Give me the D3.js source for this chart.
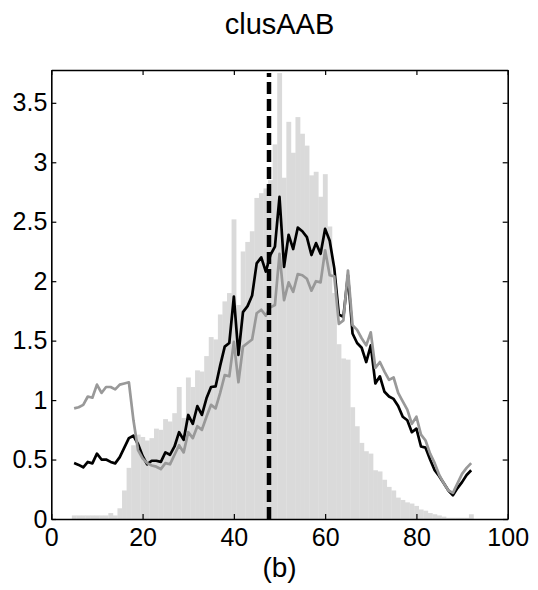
<!DOCTYPE html>
<html>
<head>
<meta charset="utf-8">
<script src="https://cdn.jsdelivr.net/npm/d3@7"></script>
<style>
  body { margin: 0; background: #fff; }
  svg text { font-family: "Liberation Sans", Arial, sans-serif; fill: #000; }
</style>
</head>
<body>
<svg id="chart" width="538" height="590"></svg>
<script>
'use strict';

// bin centres / sample positions
var xs = [5, 6, 7, 8, 9, 10, 11, 12, 13, 14, 15, 16, 17, 18, 19, 20, 21, 22, 23, 24,
  25, 26, 27, 28, 29, 30, 31, 32, 33, 34, 35, 36, 37, 38, 39, 40, 41, 42, 43, 44,
  45, 46, 47, 48, 49, 50, 51, 52, 53, 54, 55, 56, 57, 58, 59, 60, 61, 62, 63, 64,
  65, 66, 67, 68, 69, 70, 71, 72, 73, 74, 75, 76, 77, 78, 79, 80, 81, 82, 83, 84,
  85, 86, 87, 88, 89, 90, 91, 92];

// histogram (light grey bars)
var histVals = [0.03, 0.03, 0.03, 0.03, 0.03, 0.03, 0.03, 0.03, 0.05, 0.03,
  0.09, 0.24, 0.43, 0.62, 0.71, 0.69, 0.66, 0.68, 0.76, 0.75,
  0.84, 0.82, 0.89, 1.11, 0.85, 1.19, 1.11, 1.25, 1.24, 1.37,
  1.53, 1.51, 1.72, 1.83, 1.90, 2.52, 1.80, 2.25, 2.33, 2.42,
  2.70, 2.74, 2.78, 2.85, 3.15, 3.75, 2.87, 3.34, 3.08, 3.38,
  3.24, 3.14, 2.89, 2.92, 2.71, 2.90, 2.46, 1.90, 1.47, 1.35,
  1.34, 0.94, 0.78, 0.64, 0.57, 0.55, 0.41, 0.40, 0.33, 0.27,
  0.24, 0.18, 0.16, 0.14, 0.13, 0.11, 0.08, 0.07, 0.05, 0.04,
  0.03, 0.02, 0.01, 0.01, 0.01, 0.01, 0.01, 0.04];

// black curve
var blackVals = [0.47, 0.455, 0.435, 0.48, 0.468, 0.55, 0.50, 0.50, 0.48, 0.468,
  0.52, 0.60, 0.68, 0.70, 0.63, 0.53, 0.46, 0.49, 0.49, 0.48,
  0.56, 0.54, 0.61, 0.73, 0.665, 0.875, 0.80, 0.95, 0.875, 1.015,
  1.11, 1.115, 1.29, 1.45, 1.48, 1.87, 1.38, 1.74, 1.79, 1.88,
  2.15, 2.20, 2.08, 2.22, 2.29, 2.71, 2.12, 2.39, 2.27, 2.45,
  2.42, 2.37, 2.22, 2.32, 2.23, 2.44, 2.34, 2.11, 1.72, 1.70,
  2.05, 1.56, 1.48, 1.44, 1.32, 1.46, 1.14, 1.20, 1.07, 1.03,
  1.01, 0.95, 0.86, 0.83, 0.73, 0.76, 0.61, 0.60, 0.50, 0.41,
  0.36, 0.30, 0.24, 0.20, 0.26, 0.31, 0.37, 0.41];

// grey curve
var greyVals = [0.93, 0.94, 0.96, 1.03, 1.02, 1.13, 1.06, 1.11, 1.11, 1.09,
  1.13, 1.14, 1.15, 0.83, 0.58, 0.51, 0.47, 0.45, 0.44, 0.42,
  0.47, 0.46, 0.54, 0.62, 0.56, 0.73, 0.68, 0.78, 0.75, 0.86,
  0.96, 0.93, 1.06, 1.21, 1.20, 1.49, 1.15, 1.45, 1.48, 1.51,
  1.73, 1.76, 1.71, 1.78, 1.80, 2.23, 1.84, 1.99, 1.91, 2.06,
  2.05, 2.02, 1.92, 2.00, 1.99, 2.26, 2.05, 2.04, 1.64, 1.67,
  2.09, 1.63, 1.59, 1.52, 1.46, 1.57, 1.27, 1.32, 1.24, 1.17,
  1.19, 1.06, 0.99, 0.92, 0.80, 0.86, 0.71, 0.66, 0.55, 0.47,
  0.37, 0.30, 0.24, 0.22, 0.30, 0.38, 0.43, 0.47];

var xTicks = [0, 20, 40, 60, 80, 100];
var yTicks = [0, 0.5, 1, 1.5, 2, 2.5, 3, 3.5];
var markerX = 47.7;   // dashed vertical line
var markerTop = 3.75;

var margin = {top: 70, left: 51.3, right: 30.3, bottom: 71};
var W = 538, H = 590;
var width = W - margin.left - margin.right,
    height = H - margin.top - margin.bottom;

var svg = d3.select('#chart');
var g = svg.append('g')
    .attr('transform', 'translate(' + margin.left + ',' + margin.top + ')');

var x = d3.scaleLinear().domain([0, 100]).range([0, width]);
var y = d3.scaleLinear().domain([0, 3.776]).range([height, 0]);

// bars
g.selectAll('rect.bar')
    .data(xs.map(function(d, i) { return {x: d, v: histVals[i]}; }))
    .enter()
    .append('rect')
    .attr('class', 'bar')
    .attr('x', function(d) { return x(d.x - 0.5); })
    .attr('width', x(1) - x(0) + 0.3)
    .attr('y', function(d) { return y(d.v); })
    .attr('height', function(d) { return y(0) - y(d.v); })
    .attr('fill', '#dadada');

var line = d3.line()
    .x(function(d) { return x(d[0]); })
    .y(function(d) { return y(d[1]); });

g.append('path')
    .datum(xs.map(function(d, i) { return [d, blackVals[i]]; }))
    .attr('d', line)
    .attr('fill', 'none')
    .attr('stroke', '#000')
    .attr('stroke-width', 2.7)
    .attr('stroke-linejoin', 'round');

g.append('path')
    .datum(xs.map(function(d, i) { return [d, greyVals[i]]; }))
    .attr('d', line)
    .attr('fill', 'none')
    .attr('stroke', '#999')
    .attr('stroke-width', 2.7)
    .attr('stroke-linejoin', 'round');

// dashed marker
g.append('line')
    .attr('x1', x(markerX)).attr('x2', x(markerX))
    .attr('y1', y(0)).attr('y2', y(markerTop))
    .attr('stroke', '#000')
    .attr('stroke-width', 4.5)
    .attr('stroke-dasharray', '12,5');

// axes, ticks pointing inward
var ax = g.append('g').attr('class', 'axes');

ax.append('g')
    .attr('transform', 'translate(0,' + height + ')')
    .call(d3.axisBottom(x).tickValues(xTicks).tickSize(-5).tickSizeOuter(0).tickPadding(9));
ax.append('g')
    .call(d3.axisTop(x).tickValues(xTicks).tickSize(-5).tickSizeOuter(0).tickFormat(''));
ax.append('g')
    .call(d3.axisLeft(y).tickValues(yTicks).tickSize(-5).tickSizeOuter(0).tickPadding(4)
      .tickFormat(d3.format('')));
ax.append('g')
    .attr('transform', 'translate(' + width + ',0)')
    .call(d3.axisRight(y).tickValues(yTicks).tickSize(-5).tickSizeOuter(0).tickFormat(''));

ax.selectAll('.domain').attr('stroke', '#000').attr('stroke-width', 1.6);
ax.selectAll('.tick line').attr('stroke', '#000').attr('stroke-width', 1.2);
ax.selectAll('.tick text')
    .style('font-size', '25px')
    .style('font-family', '"Liberation Sans", Arial, sans-serif')
    .attr('fill', '#000');

// title and sub-label
svg.append('text')
    .attr('x', margin.left + width / 2)
    .attr('y', 34)
    .attr('text-anchor', 'middle')
    .style('font-size', '29px')
    .text('clusAAB');

svg.append('text')
    .attr('x', margin.left + width / 2)
    .attr('y', 577)
    .attr('text-anchor', 'middle')
    .style('font-size', '28px')
    .text('(b)');
</script>
</body>
</html>
